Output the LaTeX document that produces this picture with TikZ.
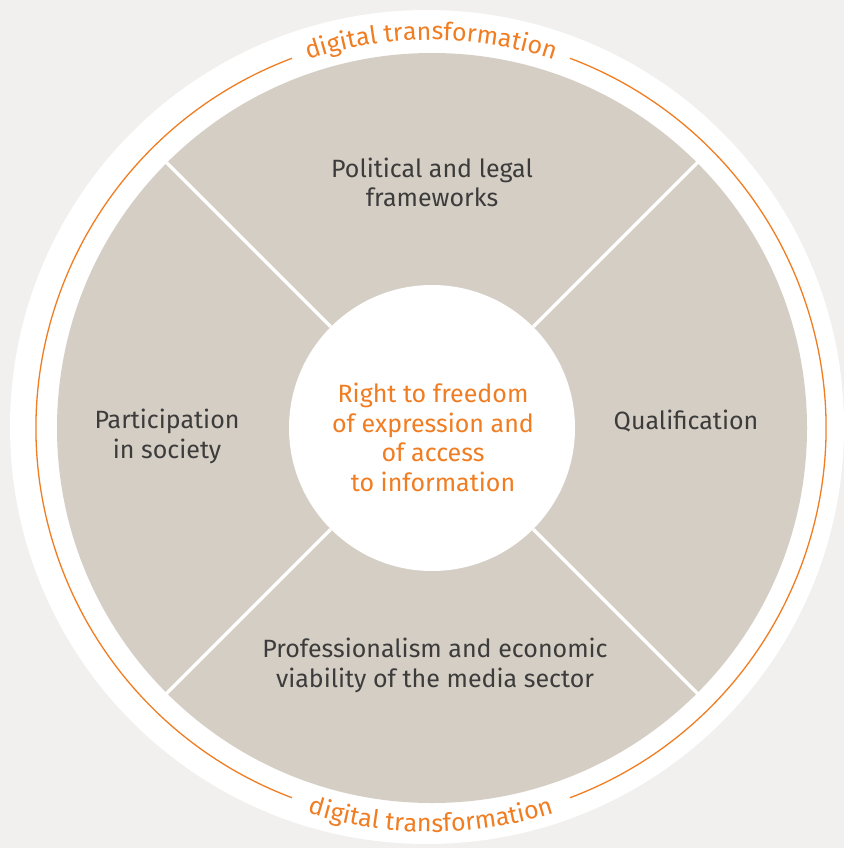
\documentclass[tikz,border=0pt]{standalone}
\usepackage{fontspec}
\setmainfont{Fira Sans}
\usetikzlibrary{decorations.text}
\definecolor{bgcol}{HTML}{F1F0EE}
\definecolor{sectorcol}{HTML}{D5CEC4}
\definecolor{dtorange}{HTML}{F07D22}
\definecolor{labelcol}{HTML}{3C3C3C}
\tikzset{
  sector label/.style={align=center, text=labelcol, font=\fontsize{25}{29.5}\selectfont},
  key label/.style={align=center, text=dtorange, font=\fontsize{25}{29.5}\selectfont}
}

\begin{document}
\begin{tikzpicture}[x=1pt, y=1pt, every node/.style={inner sep=0pt}]

\useasboundingbox (0,0) rectangle (844,-848);
\fill[bgcol] (0,0) rectangle (844,-848);
\begin{scope}
\clip (0,0) rectangle (844,-848);
\fill[white] (427,-427) circle (417);
\end{scope}

% Nodes
\coordinate (C) at (432,-428);
\coordinate (R) at (431,-428);
\node[circle, fill=sectorcol, minimum size=750pt] (disc) at (C) {};
\node[circle, fill=white, minimum size=286pt] (hub) at (C) {};

% Edges
\foreach \a in {45,135,225,315}
  \draw[white, line width=3.5pt] (hub.\a) -- (disc.\a);

% Ring
\draw[dtorange, line width=1.3pt] (R) ++(110.6:395) arc[start angle=110.6, end angle=249.4, radius=395];
\draw[dtorange, line width=1.3pt] (R) ++(-69.4:395) arc[start angle=-69.4, end angle=69.4, radius=395];

\path[decorate, decoration={text along path, text align=center,
  text={|\fontsize{25}{29}\selectfont\color{dtorange}|digital transformation}}]
  (R) ++(160:388) arc[start angle=160, end angle=20, radius=388];
\path[decorate, decoration={text along path, text align=center,
  text={|\fontsize{25}{29}\selectfont\color{dtorange}|digital transformation}}]
  (R) ++(200:404) arc[start angle=200, end angle=340, radius=404];

% Labels
\node[sector label] (politics) at (432,-182.5) {Political and legal\\frameworks};
\node[sector label] (qualification) at (686,-421) {Qualification};
\node[sector label] (participation) at (167,-436.5) {Participation\\in society};
\node[sector label] (profession) at (435,-665.5) {Professionalism and economic\\viability of the media sector};
\node[key label] (freedom) at (433,-437.5) {Right to freedom\\of expression and\\of access\\to information};

\end{tikzpicture}
\end{document}
